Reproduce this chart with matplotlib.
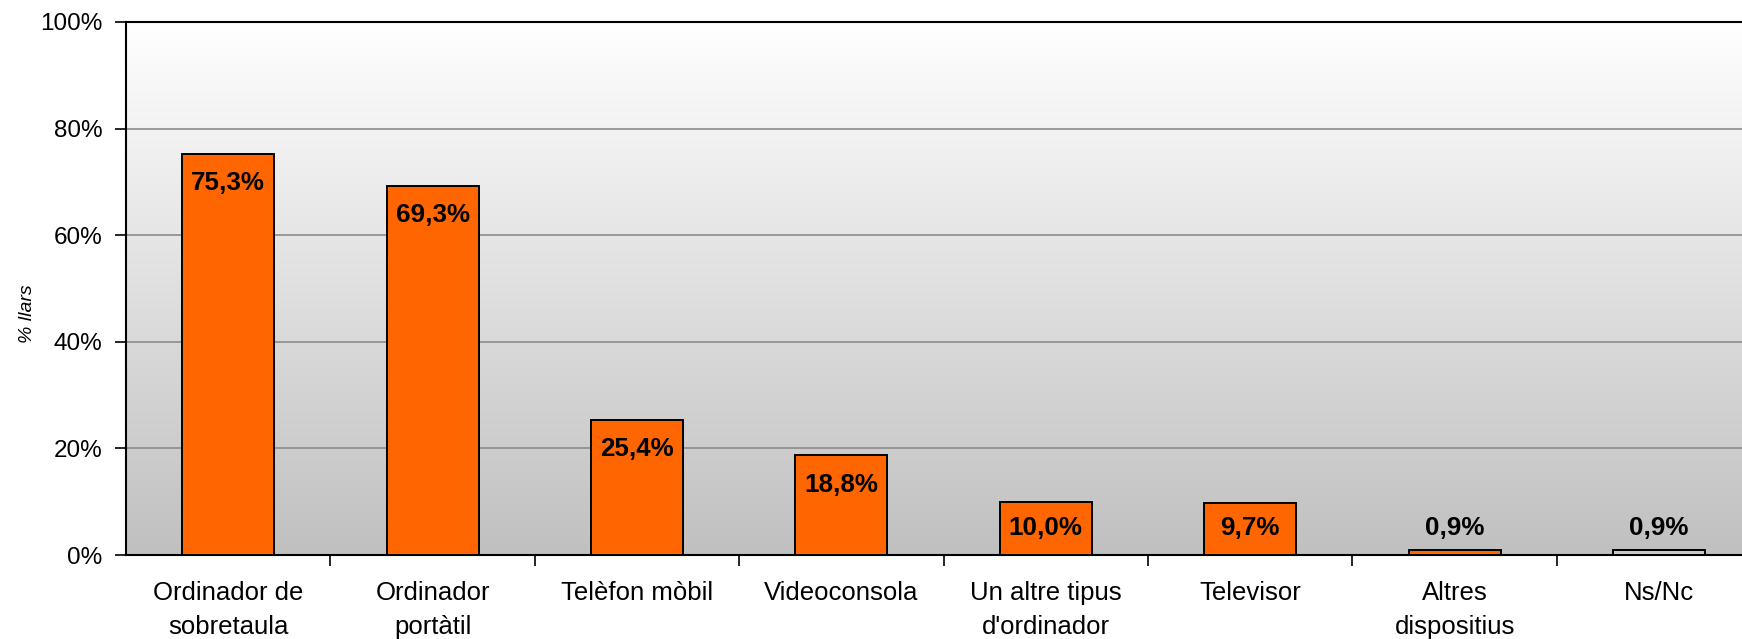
import numpy as np
import matplotlib
matplotlib.use("Agg")
import matplotlib.pyplot as plt
from matplotlib.colors import LinearSegmentedColormap

plt.rcParams['font.family'] = ['Liberation Sans', 'DejaVu Sans']

categories = ["Ordinador de\nsobretaula", "Ordinador\nportàtil", "Telèfon mòbil",
              "Videoconsola", "Un altre tipus\nd'ordinador", "Televisor",
              "Altres\ndispositius", "Ns/Nc"]
values = [75.3, 69.3, 25.4, 18.8, 10.0, 9.7, 0.9, 0.9]
labels = ["75,3%", "69,3%", "25,4%", "18,8%", "10,0%", "9,7%", "0,9%", "0,9%"]
bar_colors = ["#FF6600"] * 7 + ["#C8C8C8"]
yticks = [0, 20, 40, 60, 80, 100]
ytick_labels = ["0%", "20%", "40%", "60%", "80%", "100%"]

W, H = 1742, 639
fig = plt.figure(figsize=(W / 100, H / 100), dpi=100)
left = 126 / W
bottom = (H - 555) / H
height = (555 - 22) / H
width = 8 * 204.4 / W
ax = fig.add_axes([left, bottom, width, height])

n = len(categories)
ax.set_xlim(-0.5, n - 0.5)
ax.set_ylim(0, 100)

# gradient background
cmap = LinearSegmentedColormap.from_list("bg", ["#C0C0C0", "#FFFFFF"])
grad = np.linspace(0, 1, 256).reshape(-1, 1)
ax.imshow(grad, aspect="auto", cmap=cmap, origin="lower",
          extent=[-0.5, n - 0.5, 0, 100], zorder=0)

for y in yticks[1:-1]:
    ax.axhline(y, color="#8C8C8C", lw=1.2, zorder=1)

x = np.arange(n)
ax.bar(x, values, width=0.45, color=bar_colors, edgecolor="black",
       linewidth=1.4, zorder=3)

for xi, v, lab in zip(x, values, labels):
    ty = max(v - 5.6, 5.0)
    ax.text(xi, ty, lab, ha="center", va="center", fontsize=18.7,
            fontweight="bold", color="black", zorder=4)

ax.set_yticks(yticks)
ax.set_yticklabels(ytick_labels, fontsize=17.5)
ax.tick_params(axis="y", direction="out", length=8, width=1.2, pad=9)

ax.set_xticks(x)
ax.set_xticklabels(categories, fontsize=18.5, linespacing=1.5)
ax.tick_params(axis="x", which="major", length=0, pad=19)
ax.set_xticks(np.arange(n) + 0.5, minor=True)
ax.tick_params(axis="x", which="minor", direction="out", length=8, width=1.2)

for s in ["left", "bottom", "top"]:
    ax.spines[s].set_linewidth(1.5)
    ax.spines[s].set_color("black")
ax.spines["right"].set_visible(False)

fig.text(28 / W, 1 - 314 / H, "% llars", rotation=90, fontsize=14,
         style="italic", ha="center", va="center")

fig.savefig("out.png", dpi=100)
